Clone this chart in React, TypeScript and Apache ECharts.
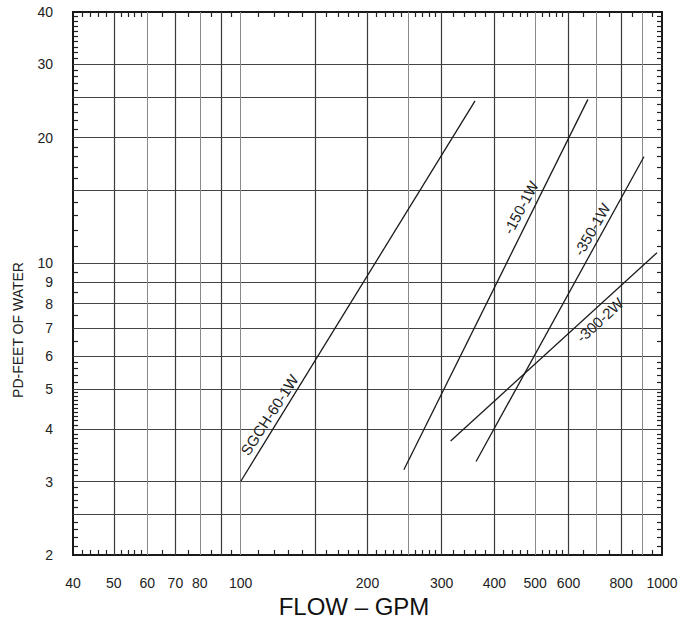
import React, { useEffect, useRef } from "react";
import * as echarts from "echarts";

// Axis ranges (real units)
const xRange = [40, 1000];
const yRange = [2, 40];

// Tick labels
const xLabelValues = [40, 50, 60, 70, 80, 100, 200, 300, 400, 500, 600, 800, 1000];
const yLabelValues = [2, 3, 4, 5, 6, 7, 8, 9, 10, 20, 30, 40];

// Grid lines
const xGridDark = [50, 70, 90, 150, 200, 300, 400, 600, 800];
const xGridLight = [60, 80, 100, 250, 500, 700, 900];
const yGrid = [2.5, 3, 4, 5, 6, 7, 8, 9, 10, 15, 20, 25, 30];

// Minor tick marks along the frame
const xMinorTicks = [
  42, 44, 46, 48, 52, 54, 56, 58, 65, 75, 85, 95,
  110, 120, 130, 140, 160, 170, 180, 190,
  210, 220, 230, 240, 260, 270, 280, 290,
  320, 340, 360, 380, 420, 440, 460, 480,
  520, 540, 560, 580, 650, 750, 850, 950,
];
const yMinorTicks = [
  2.1, 2.2, 2.3, 2.4, 2.6, 2.7, 2.8, 2.9,
  3.1, 3.2, 3.3, 3.4, 3.5, 3.6, 3.7, 3.8, 3.9,
  4.1, 4.2, 4.3, 4.4, 4.5, 4.6, 4.7, 4.8, 4.9,
  5.2, 5.4, 5.6, 5.8, 6.5, 7.5, 8.5, 9.5,
  11, 12, 13, 14, 16, 17, 18, 19,
  21, 22, 23, 24, 26, 27, 28, 29,
  31, 32, 33, 34, 35, 36, 37, 38, 39,
];

// Series (flow GPM, pressure drop ft of water)
const seriesNames = ["SGCH-60-1W", "-150-1W", "-350-1W", "-300-2W"];
const sgch60x1w = [[100, 3], [360, 24.5]];
const s150x1w = [[244, 3.2], [667, 24.7]];
const s350x1w = [[362, 3.35], [906, 18]];
const s300x2w = [[315, 3.75], [973, 10.6]];
const seriesData = [sgch60x1w, s150x1w, s350x1w, s300x2w];

// Where each curve's name is written (data coordinates) and its slant
const labelAnchors = [[117, 4.33], [462, 13.6], [682, 12.06], [712, 7.31]];
const labelAngles = [57, 62, 60, 42.5];

const lg = (v: number) => Math.log10(v);
const FONT = "'Liberation Sans', Arial, Helvetica, sans-serif";

export default function App() {
  const ref = useRef<HTMLDivElement>(null);

  useEffect(() => {
    if (!ref.current) return;
    const chart = echarts.init(ref.current, undefined, { renderer: "svg" });

    const xBase = {
      type: "value",
      gridIndex: 0,
      min: lg(xRange[0]),
      max: lg(xRange[1]),
      axisLine: { show: false },
      axisTick: { show: false },
      axisLabel: { show: false },
      splitLine: { show: false },
    };
    const yBase = {
      type: "value",
      gridIndex: 0,
      min: lg(yRange[0]),
      max: lg(yRange[1]),
      axisLine: { show: false },
      axisTick: { show: false },
      axisLabel: { show: false },
      splitLine: { show: false },
    };

    const fmt = (v: number) => String(Math.round(Math.pow(10, v)));

    const option: any = {
      animation: false,
      backgroundColor: "#ffffff",
      grid: {
        left: 73,
        top: 12,
        right: 29,
        bottom: 67,
        show: true,
        borderColor: "#1a1a1a",
        borderWidth: 2,
        backgroundColor: "#ffffff",
      },
      xAxis: [
        {
          ...xBase,
          position: "bottom",
          axisLabel: {
            show: true,
            customValues: xLabelValues.map(lg),
            formatter: fmt,
            margin: 21,
            fontSize: 14,
            color: "#222",
            fontFamily: FONT,
          },
          axisTick: { show: false, customValues: xGridDark.map(lg) },
          splitLine: {
            show: true,
            customValues: xGridDark.map(lg),
            lineStyle: { color: "#3a3a3a", width: 1.2 },
          },
        },
        {
          ...xBase,
          position: "bottom",
          axisTick: { show: false, customValues: xGridLight.map(lg) },
          splitLine: {
            show: true,
            customValues: xGridLight.map(lg),
            lineStyle: { color: "#8a8a8a", width: 1 },
          },
        },
        {
          ...xBase,
          position: "bottom",
          axisTick: {
            show: true,
            inside: true,
            length: 5,
            customValues: xMinorTicks.map(lg),
            lineStyle: { color: "#222", width: 1.2 },
          },
        },
        {
          ...xBase,
          position: "top",
          axisTick: {
            show: true,
            inside: true,
            length: 5,
            customValues: xMinorTicks.map(lg),
            lineStyle: { color: "#222", width: 1.2 },
          },
        },
      ],
      yAxis: [
        {
          ...yBase,
          position: "left",
          axisLabel: {
            show: true,
            customValues: yLabelValues.map(lg),
            formatter: fmt,
            margin: 20,
            fontSize: 14,
            color: "#222",
            fontFamily: FONT,
          },
          axisTick: { show: false, customValues: yGrid.map(lg) },
          splitLine: {
            show: true,
            customValues: yGrid.map(lg),
            lineStyle: { color: "#444", width: 1.2 },
          },
        },
        {
          ...yBase,
          position: "left",
          axisTick: {
            show: true,
            inside: true,
            length: 5,
            customValues: yMinorTicks.map(lg),
            lineStyle: { color: "#222", width: 1.2 },
          },
        },
        {
          ...yBase,
          position: "right",
          axisTick: {
            show: true,
            inside: true,
            length: 5,
            customValues: yMinorTicks.map(lg),
            lineStyle: { color: "#222", width: 1.2 },
          },
        },
      ],
      series: seriesNames.map((name, i) => ({
        name,
        type: "line",
        xAxisIndex: 0,
        yAxisIndex: 0,
        silent: true,
        symbol: "none",
        data: seriesData[i].map(([x, y]) => [lg(x), lg(y)]),
        lineStyle: { color: "#1a1a1a", width: 1.3 },
        markPoint: {
          silent: true,
          symbol: "circle",
          symbolSize: 1,
          itemStyle: { color: "rgba(0,0,0,0)" },
          data: [
            {
              coord: [lg(labelAnchors[i][0]), lg(labelAnchors[i][1])],
              label: {
                show: true,
                position: "inside",
                formatter: name,
                rotate: labelAngles[i],
                fontSize: 15,
                color: "#222",
                fontFamily: FONT,
              },
            },
          ],
        },
      })),
      graphic: [
        {
          type: "text",
          x: 18,
          y: 330,
          rotation: Math.PI / 2,
          style: {
            text: "PD-FEET OF WATER",
            fontSize: 14,
            fontFamily: FONT,
            fill: "#222",
            align: "center",
            verticalAlign: "middle",
          },
        },
        {
          type: "text",
          x: 354,
          y: 606,
          style: {
            text: "FLOW – GPM",
            fontSize: 24,
            fontFamily: FONT,
            fill: "#111",
            align: "center",
            verticalAlign: "middle",
          },
        },
      ],
    };

    chart.setOption(option);
    return () => chart.dispose();
  }, []);

  return (
    <div
      ref={ref}
      style={{ position: "fixed", left: 0, top: 0, width: 691, height: 622, background: "#fff" }}
    />
  );
}
